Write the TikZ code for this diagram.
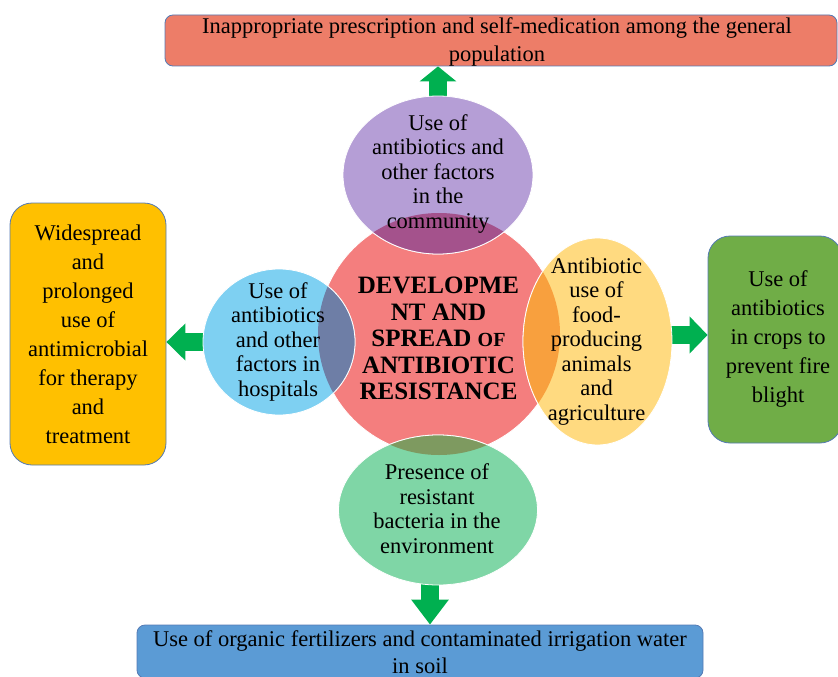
\documentclass[tikz,border=0pt]{standalone}
\usepackage{fontspec}
\setmainfont{Liberation Serif}
\usetikzlibrary{calc,positioning,shapes.geometric,arrows.meta}
\pgfdeclarelayer{back}
\pgfsetlayers{back,main}

\definecolor{hubred}{RGB}{244,126,126}
\definecolor{lilac}{RGB}{181,158,214}
\definecolor{lilacmix}{RGB}{164,82,140}
\definecolor{skyblue}{RGB}{126,208,242}
\definecolor{skybluemix}{RGB}{110,126,166}
\definecolor{butter}{RGB}{255,218,128}
\definecolor{buttermix}{RGB}{248,160,62}
\definecolor{mint}{RGB}{127,214,166}
\definecolor{mintmix}{RGB}{126,154,96}
\definecolor{arrowgreen}{RGB}{0,176,80}
\definecolor{topsalmon}{RGB}{237,125,104}
\definecolor{amber}{RGB}{255,192,0}
\definecolor{leafgreen}{RGB}{112,173,71}
\definecolor{steelblue}{RGB}{91,155,213}
\definecolor{boxedge}{RGB}{84,122,180}

\tikzset{
  cause box/.style={draw=boxedge,line width=0.8pt,rounded corners=#1,inner sep=0pt},
  bubble/.style={ellipse,inner sep=0pt,draw=white,line width=0.8pt},
  community shape/.style={bubble,minimum width=190pt,minimum height=158pt},
  hospital shape/.style={bubble,minimum width=152pt,minimum height=146pt},
  food shape/.style={bubble,minimum width=149pt,minimum height=207pt},
  environment shape/.style={bubble,minimum width=199pt,minimum height=150pt},
  wide text/.style={align=center,inner sep=0pt,font=\fontsize{22.5}{28}\selectfont},
  box text/.style={align=center,inner sep=0pt,font=\fontsize{22.5}{29}\selectfont},
  bubble text/.style={align=center,inner sep=0pt,font=\fontsize{22.5}{24.5}\selectfont},
  hub text/.style={align=center,inner sep=0pt,font=\bfseries\fontsize{25}{26.5}\selectfont},
  block arrow/.style={draw=arrowgreen,line width=18pt,-{Triangle[length=#1,width=36pt]}},
  block arrow/.default=18pt
}

\begin{document}
\begin{tikzpicture}[x=1pt,y=-1pt]
  \useasboundingbox (0,0) rectangle (838,677);
  \clip (0,0) rectangle (838,677);

  % cause boxes round the outside
  \node (prescription) [cause box=8pt,fill=topsalmon,minimum width=672pt,minimum height=51pt] at (501,40.5) {};
  \node (widespread) [cause box=22pt,fill=amber,minimum width=156pt,minimum height=262pt] at (88,334) {};
  \node (crops) [cause box=22pt,fill=leafgreen,minimum width=134pt,minimum height=207pt] at (775,339.5) {};
  \node (fertilizer) [cause box=8pt,fill=steelblue,minimum width=566pt,minimum height=53pt] at (420,651.5) {};

  % hub and bubbles
  \node (hub) [circle,fill=hubred,draw=white,line width=0.8pt,minimum size=242pt,inner sep=0pt] at (439,334) {};
  \node (community) [community shape,fill=lilac] at (438,175) {};
  \node (hospitals) [hospital shape,fill=skyblue] at (279,342) {};
  \node (farming) [food shape,fill=butter] at (597.5,341.5) {};
  \node (environment) [environment shape,fill=mint] at (438,510) {};

  % darker overlaps with the hub
  \begin{scope}
    \clip (hub.center) circle[radius=121pt];
    \node [community shape,fill=lilacmix] at (community) {};
    \node [hospital shape,fill=skybluemix] at (hospitals) {};
    \node [food shape,fill=buttermix] at (farming) {};
    \node [environment shape,fill=mintmix] at (environment) {};
  \end{scope}

  \begin{pgfonlayer}{back}
    \draw[block arrow=15pt] (community.center) -- (community.center |- prescription.south);
    \draw[block arrow=19pt] (hospitals.center) -- (hospitals.center -| widespread.east);
    \draw[block arrow] ([yshift=6.5pt]farming.center) -- ([yshift=6.5pt]farming.center -| crops.west);
    \draw[block arrow=25pt] ([xshift=-8pt]environment.center) -- ([xshift=-8pt]environment.center |- fertilizer.north);
  \end{pgfonlayer}

  % texts
  \node (prescription_label) [wide text] at (497,42) {Inappropriate prescription and self-medication among the general\\population};
  \node (widespread_label) [box text] at (widespread) {Widespread\\and\\prolonged\\use of\\antimicrobial\\for therapy\\and\\treatment};
  \node (crops_label) [box text] at (778,339.5) {Use of\\antibiotics\\in crops to\\prevent fire\\blight};
  \node (fertilizer_label) [box text,font=\fontsize{22.5}{27}\selectfont] at (420,652) {Use of organic fertilizers and contaminated irrigation water\\in soil};
  \node (hub_label) [hub text] at (438.5,338.5) {DEVELOPME\\NT AND\\SPREAD {\fontsize{20}{26.5}\selectfont OF}\\ANTIBIOTIC\\RESISTANCE};
  \node (community_label) [bubble text] at (438,174) {Use of\\antibiotics and\\other factors\\in the\\community};
  \node (hospitals_label) [bubble text] at (278,341.5) {Use of\\antibiotics\\and other\\factors in\\hospitals};
  \node (farming_label) [bubble text] at (596.5,341.5) {Antibiotic\\use of\\food-\\producing\\animals\\and\\agriculture};
  \node (environment_label) [bubble text] at (437,508.5) {Presence of\\resistant\\bacteria in the\\environment};
\end{tikzpicture}
\end{document}
